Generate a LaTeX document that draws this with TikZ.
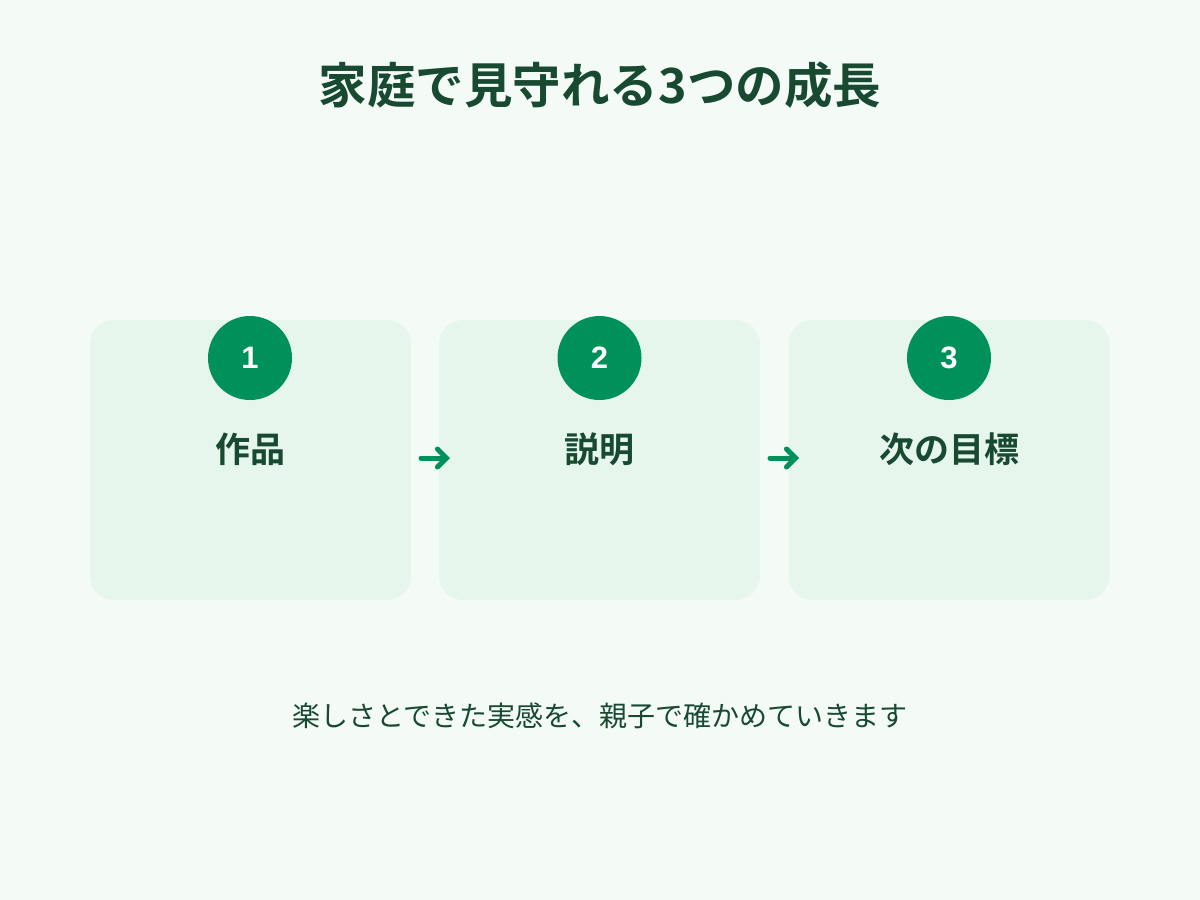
\documentclass[tikz,border=0pt]{standalone}
\usepackage{fontspec}
\newfontfamily\jpb{Noto Sans CJK JP Bold}
\newfontfamily\jpr{Noto Sans CJK JP}
\newfontfamily\digb{Liberation Sans Bold}
\usetikzlibrary{arrows.meta}
\definecolor{bg}{HTML}{F4FBF6}
\definecolor{card}{HTML}{E6F6EC}
\definecolor{accent}{HTML}{00915A}
\definecolor{ink}{HTML}{184A32}
\tikzset{
  cardbox/.style={fill=card, draw=none, rounded corners=24pt, minimum width=321pt, minimum height=280pt, inner sep=0pt},
  numdot/.style={circle, fill=accent, minimum size=84pt, inner sep=0pt, text=white, font=\digb\fontsize{31}{31}\selectfont},
  cardlabel/.style={text=ink, font=\jpb\fontsize{35}{35}\selectfont, inner sep=0pt},
  flow/.style={draw=accent, line width=5pt, line cap=round, -{Straight Barb[length=9pt,width=18pt,line cap=round]}},
}
\begin{document}
\begin{tikzpicture}[x=1pt,y=-1pt]
\fill[bg] (0,0) rectangle (1200,900);
\useasboundingbox (0,0) rectangle (1200,900);
\node[text=ink, font=\jpb\fontsize{48.5}{48.5}\selectfont] (title) at (600,85) {家庭で見守れる3つの成長};
\node[cardbox] (c1) at (250.5,460) {};
\node[cardbox] (c2) at (599.5,460) {};
\node[cardbox] (c3) at (949,460) {};
\node[numdot] (n1) at (250,358) {1};
\node[numdot] (n2) at (599.5,358) {2};
\node[numdot] (n3) at (949,358) {3};
\node[cardlabel] (l1) at (250,449) {作品};
\node[cardlabel] (l2) at (599.5,449) {説明};
\node[cardlabel] (l3) at (949,449) {次の目標};
\coordinate (a1s) at (421,458);
\coordinate (a1e) at (450,458);
\coordinate (a2s) at (770,458);
\coordinate (a2e) at (799,458);
\draw[flow] (a1s) -- (a1e);
\draw[flow] (a2s) -- (a2e);
\node[text=ink, font=\jpr\fontsize{28}{28}\selectfont] (sub) at (600,716) {楽しさとできた実感を、親子で確かめていきます};
\end{tikzpicture}
\end{document}
